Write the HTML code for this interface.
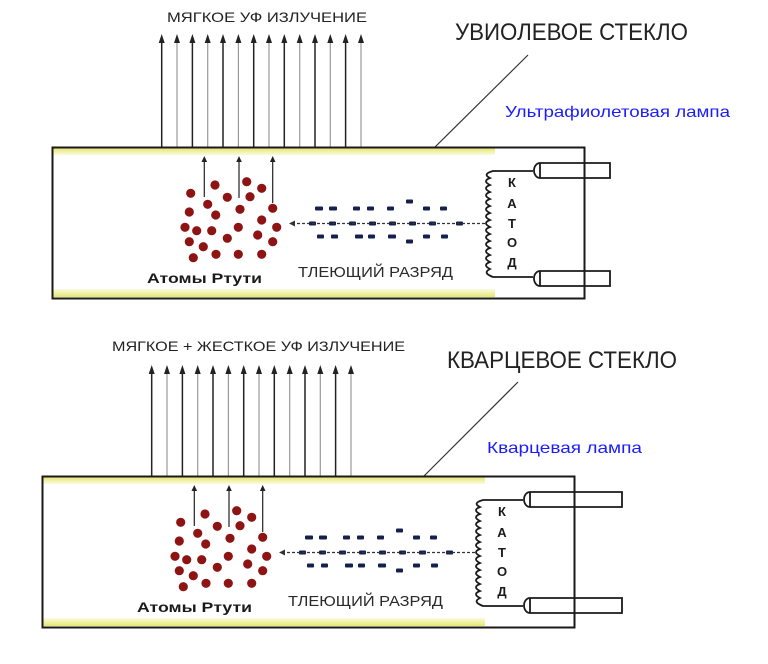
<!DOCTYPE html>
<html><head><meta charset="utf-8"><style>
html,body{margin:0;padding:0;background:#fff;width:768px;height:664px;overflow:hidden}
svg{display:block}
text{font-family:"Liberation Sans",sans-serif}
</style></head><body>
<svg width="768" height="664" viewBox="0 0 768 664" xmlns="http://www.w3.org/2000/svg">
<defs>
<linearGradient id="yt" x1="0" y1="0" x2="0" y2="1"><stop offset="0" stop-color="#e6e670"/><stop offset="1" stop-color="#fbfbe0"/></linearGradient>
<linearGradient id="yb" x1="0" y1="0" x2="0" y2="1"><stop offset="0" stop-color="#fbfbe0"/><stop offset="1" stop-color="#e6e670"/></linearGradient>
<g id="inner">
  <rect x="53" y="148" width="442" height="7" fill="url(#yt)"/>
  <rect x="53" y="289" width="442" height="8" fill="url(#yb)"/>
  <g fill="#8e1414">
    <circle cx="190.7" cy="193.3" r="4.6"/><circle cx="215" cy="185" r="4.6"/><circle cx="246.7" cy="181.7" r="4.6"/><circle cx="261.7" cy="188.3" r="4.6"/>
    <circle cx="227.3" cy="197.3" r="4.6"/><circle cx="250" cy="196.7" r="4.6"/><circle cx="207.7" cy="204.3" r="4.6"/><circle cx="240" cy="209.3" r="4.6"/>
    <circle cx="272.7" cy="208.3" r="4.6"/><circle cx="189.3" cy="212" r="4.6"/><circle cx="215.7" cy="215" r="4.6"/><circle cx="261.7" cy="220" r="4.6"/>
    <circle cx="185" cy="227.3" r="4.6"/><circle cx="196.7" cy="230.7" r="4.6"/><circle cx="211.7" cy="230.7" r="4.6"/><circle cx="238.3" cy="227.3" r="4.6"/>
    <circle cx="257.7" cy="235" r="4.6"/><circle cx="276.7" cy="227.3" r="4.6"/><circle cx="189.3" cy="241.7" r="4.6"/><circle cx="203.3" cy="246.7" r="4.6"/>
    <circle cx="227.3" cy="238.3" r="4.6"/><circle cx="272.7" cy="241.7" r="4.6"/><circle cx="193.3" cy="257.7" r="4.6"/><circle cx="216" cy="254.3" r="4.6"/>
    <circle cx="238.3" cy="254.3" r="4.6"/><circle cx="261.7" cy="254.3" r="4.6"/>
  </g>
  <g stroke="#222" stroke-width="1.2" fill="#222">
    <line x1="204.3" y1="197" x2="204.3" y2="160"/><path d="M201.5,162 L204.3,156 L207.1,162Z" stroke="none"/>
    <line x1="239" y1="198" x2="239" y2="160"/><path d="M236.2,162 L239,156 L241.8,162Z" stroke="none"/>
    <line x1="272.7" y1="203" x2="272.7" y2="160"/><path d="M269.9,162 L272.7,156 L275.5,162Z" stroke="none"/>
  </g>
  <g fill="#16204e">
    <rect x="315" y="206.5" width="8" height="4" rx="1"/><rect x="329" y="206.5" width="8" height="4" rx="1"/><rect x="353" y="206.5" width="7" height="4" rx="1"/><rect x="367" y="206.5" width="7" height="4" rx="1"/>
    <rect x="387" y="206.5" width="7" height="4" rx="1"/><rect x="406" y="199.5" width="7" height="4" rx="1"/><rect x="423" y="206.5" width="7" height="4" rx="1"/><rect x="440" y="206.5" width="7" height="4" rx="1"/>
    <rect x="317" y="234.5" width="7" height="4" rx="1"/><rect x="331" y="234.5" width="7" height="4" rx="1"/><rect x="355" y="234.5" width="8" height="4" rx="1"/><rect x="368" y="234.5" width="7" height="4" rx="1"/>
    <rect x="388" y="234.5" width="8" height="4" rx="1"/><rect x="406" y="239.5" width="7" height="4" rx="1"/><rect x="423" y="234.5" width="7" height="4" rx="1"/><rect x="441" y="234.5" width="7" height="4" rx="1"/>
    <rect x="309" y="221.5" width="7" height="4" rx="1"/><rect x="329" y="221.5" width="7" height="4" rx="1"/><rect x="349" y="221.5" width="7" height="4" rx="1"/><rect x="369" y="221.5" width="7" height="4" rx="1"/>
    <rect x="389" y="221.5" width="7" height="4" rx="1"/><rect x="409" y="221.5" width="7" height="4" rx="1"/><rect x="429" y="221.5" width="7" height="4" rx="1"/><rect x="456" y="221.5" width="7" height="4" rx="1"/>
  </g>
  <line x1="292" y1="223.5" x2="486" y2="223.5" stroke="#333" stroke-width="1.2" stroke-dasharray="3,2"/>
  <path d="M289,223.5 L295,220.5 L295,226.5Z" fill="#333"/>
  <text x="147" y="283" font-size="14" font-weight="bold" fill="#1a1a1a" textLength="115" lengthAdjust="spacingAndGlyphs">Атомы Ртути</text>
  <text x="298" y="277" font-size="15" fill="#2a2a2a" textLength="155" lengthAdjust="spacingAndGlyphs">ТЛЕЮЩИЙ РАЗРЯД</text>
  <path d="M533,171 L493,171 Q482,174 490,178 Q482,181 490,185 Q482,188 490,192 Q482,195 490,199 Q482,202 490,206 Q482,209 490,213 Q482,216 490,220 Q482,223 490,227 Q482,230 490,234 Q482,237 490,241 Q482,244 490,248 Q482,251 490,255 Q482,258 490,262 Q482,265 490,269 Q482,273 493,277 L533,277" fill="none" stroke="#1a1a1a" stroke-width="1.8"/>
  <g font-size="13" font-weight="bold" fill="#1a1a1a" text-anchor="middle">
    <text x="512" y="187">К</text><text x="512" y="208">А</text><text x="512" y="228">Т</text><text x="512" y="247">О</text><text x="512" y="267">Д</text>
  </g>
  <rect x="52.5" y="147.5" width="532" height="151" fill="none" stroke="#1a1a1a" stroke-width="2"/>
</g>
<g id="arrows">
<g stroke="#222" stroke-width="1.5"><line x1="161.7" y1="147" x2="161.7" y2="42"/><line x1="192.4" y1="147" x2="192.4" y2="42"/><line x1="223" y1="147" x2="223" y2="42"/><line x1="253.7" y1="147" x2="253.7" y2="42"/><line x1="284.3" y1="147" x2="284.3" y2="42"/><line x1="315" y1="147" x2="315" y2="42"/><line x1="345.6" y1="147" x2="345.6" y2="42"/></g>
<g stroke="#999" stroke-width="1.2"><line x1="177" y1="147" x2="177" y2="42"/><line x1="207.7" y1="147" x2="207.7" y2="42"/><line x1="238.4" y1="147" x2="238.4" y2="42"/><line x1="269" y1="147" x2="269" y2="42"/><line x1="299.7" y1="147" x2="299.7" y2="42"/><line x1="330.3" y1="147" x2="330.3" y2="42"/><line x1="361" y1="147" x2="361" y2="42"/></g>
<g fill="#222">
<path d="M158.7,43 L161.7,34 L164.7,43Z"/><path d="M174,43 L177,34 L180,43Z"/><path d="M189.4,43 L192.4,34 L195.4,43Z"/><path d="M204.7,43 L207.7,34 L210.7,43Z"/><path d="M220,43 L223,34 L226,43Z"/><path d="M235.4,43 L238.4,34 L241.4,43Z"/><path d="M250.7,43 L253.7,34 L256.7,43Z"/><path d="M266,43 L269,34 L272,43Z"/><path d="M281.3,43 L284.3,34 L287.3,43Z"/><path d="M296.7,43 L299.7,34 L302.7,43Z"/><path d="M312,43 L315,34 L318,43Z"/><path d="M327.3,43 L330.3,34 L333.3,43Z"/><path d="M342.6,43 L345.6,34 L348.6,43Z"/><path d="M358,43 L361,34 L364,43Z"/>
</g>
</g>
</defs>

<!-- TOP -->
<text x="167" y="22" font-size="14" fill="#222" textLength="200" lengthAdjust="spacingAndGlyphs">МЯГКОЕ УФ ИЗЛУЧЕНИЕ</text>
<text x="455" y="40" font-size="24" fill="#222" textLength="233" lengthAdjust="spacingAndGlyphs">УВИОЛЕВОЕ СТЕКЛО</text>
<line x1="528" y1="55" x2="432" y2="150" stroke="#333" stroke-width="1.2"/>
<text x="505" y="117" font-size="16" fill="#1b1bff" textLength="225" lengthAdjust="spacingAndGlyphs">Ультрафиолетовая лампа</text>
<use href="#arrows"/>
<use href="#inner"/>
<g fill="#fff" stroke="#1a1a1a" stroke-width="1.8">
  <path d="M540,163 L610,163 L610,178 L540,178 A6,7.5 0 0 1 540,163Z"/><line x1="540" y1="163" x2="540" y2="178"/>
  <path d="M540,271 L610,271 L610,286 L540,286 A6,7.5 0 0 1 540,271Z"/><line x1="540" y1="271" x2="540" y2="286"/>
</g>
<line x1="584.5" y1="160" x2="584.5" y2="290" stroke="#1a1a1a" stroke-width="2"/>

<!-- BOTTOM -->
<text x="112" y="351" font-size="14" fill="#222" textLength="293" lengthAdjust="spacingAndGlyphs">МЯГКОЕ + ЖЕСТКОЕ УФ ИЗЛУЧЕНИЕ</text>
<text x="447" y="368" font-size="24" fill="#222" textLength="230" lengthAdjust="spacingAndGlyphs">КВАРЦЕВОЕ СТЕКЛО</text>
<line x1="518" y1="382" x2="422" y2="478" stroke="#333" stroke-width="1.2"/>
<text x="487" y="453" font-size="16" fill="#1b1bff" textLength="155" lengthAdjust="spacingAndGlyphs">Кварцевая лампа</text>
<g transform="translate(-10,331)"><use href="#arrows"/></g>
<g transform="translate(-10,329)"><use href="#inner"/></g>
<g fill="#fff" stroke="#1a1a1a" stroke-width="1.8">
  <path d="M530,492 L622,492 L622,507 L530,507 A6,7.5 0 0 1 530,492Z"/><line x1="530" y1="492" x2="530" y2="507"/>
  <path d="M530,598 L622,598 L622,613 L530,613 A6,7.5 0 0 1 530,598Z"/><line x1="530" y1="598" x2="530" y2="613"/>
</g>
<line x1="574.5" y1="489" x2="574.5" y2="619" stroke="#1a1a1a" stroke-width="2"/>
</svg>
</body></html>
